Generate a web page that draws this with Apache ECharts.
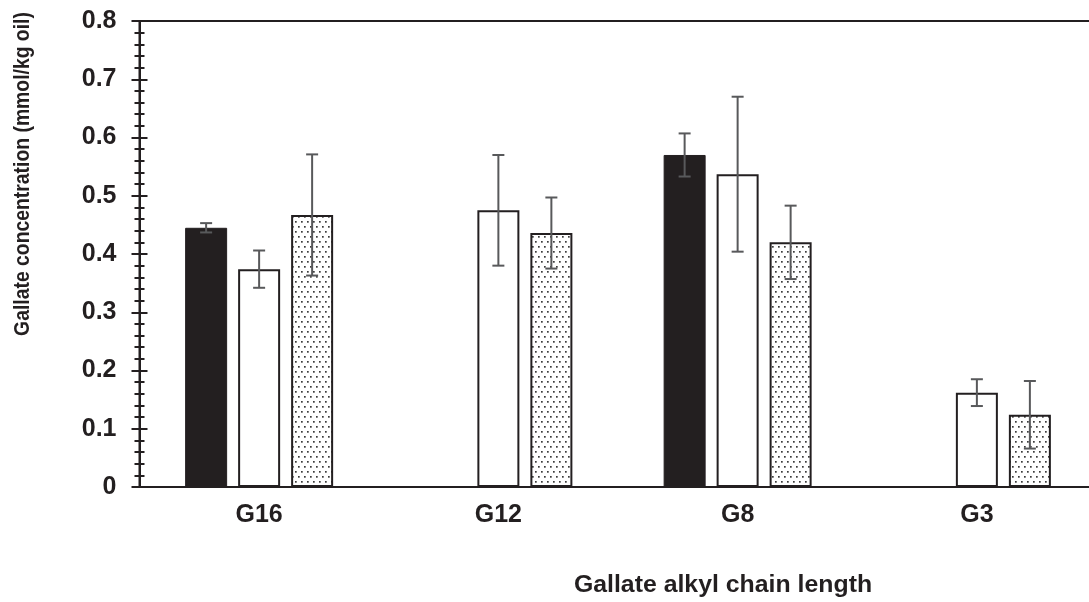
<!DOCTYPE html>
<html>
<head>
<meta charset="utf-8">
<script src="https://cdn.jsdelivr.net/npm/echarts@6/dist/echarts.min.js"></script>
<style>html,body{margin:0;padding:0;background:#fff}#c{width:1089px;height:602px}</style>
</head>
<body>
<div id="c"></div>
<script>
// ---- data ----
var categories = ['G16', 'G12', 'G8', 'G3'];
var blackValues = [0.445, '-', 0.570, '-'];
var blackErrors = [0.008, '-', 0.037, '-'];
var whiteValues = [0.374, 0.475, 0.537, 0.162];
var whiteErrors = [0.032, 0.095, 0.133, 0.023];
var dottedValues = [0.467, 0.436, 0.420, 0.124];
var dottedErrors = [0.104, 0.061, 0.063, 0.058];
var yTicks = [0, 0.1, 0.2, 0.3, 0.4, 0.5, 0.6, 0.7, 0.8];
var yTitle = 'Gallate concentration (mmol/kg oil)';
var xTitle = 'Gallate alkyl chain length';

// ---- styles ----
var INK = '#231f20';
var ERR = '#58595b';
var FONT = '"Liberation Sans", Arial, sans-serif';
var BAR_W = 42, BAR_GAP = 11;

function makeDotPattern() {
  var c = document.createElement('canvas');
  c.width = 6; c.height = 10;
  var g = c.getContext('2d');
  g.fillStyle = '#ffffff';
  g.fillRect(0, 0, 6, 10);
  g.fillStyle = '#3c3c3c';
  g.fillRect(1, 1, 1.7, 1.7);
  g.fillRect(4, 6, 1.7, 1.7);
  return c;
}
var dotPattern = { image: makeDotPattern(), repeat: 'repeat' };

function errData(vals, errs) {
  return vals.map(function (v, i) {
    return v === '-' ? [i, '-', '-'] : [i, v, errs[i]];
  });
}

function errSeries(vals, errs, slot) {
  return {
    type: 'custom',
    xAxisIndex: 0, yAxisIndex: 0,
    z: 10,
    encode: { x: 0, y: 1 },
    data: errData(vals, errs),
    renderItem: function (params, api) {
      var v = api.value(1), e = api.value(2);
      if (isNaN(v) || isNaN(e)) return null;
      var ci = api.value(0);
      var top = api.coord([ci, v + e]);
      var bot = api.coord([ci, v - e]);
      var x = top[0] + slot * (BAR_W + BAR_GAP);
      var hw = 6;
      var st = { stroke: ERR, lineWidth: 2, fill: null };
      return {
        type: 'group',
        children: [
          { type: 'line', shape: { x1: x, y1: top[1], x2: x, y2: bot[1] }, style: st },
          { type: 'line', shape: { x1: x - hw, y1: top[1], x2: x + hw, y2: top[1] }, style: st },
          { type: 'line', shape: { x1: x - hw, y1: bot[1], x2: x + hw, y2: bot[1] }, style: st }
        ]
      };
    }
  };
}

var yLabelStyle = { fontFamily: FONT, fontSize: 25, fontWeight: 'bold', color: INK };
var yMin = yTicks[0], yMax = yTicks[yTicks.length - 1], yStep = yTicks[1] - yTicks[0];

var chart = echarts.init(document.getElementById('c'), null, { renderer: 'canvas' });
chart.setOption({
  animation: false,
  backgroundColor: '#ffffff',
  grid: { left: 139.5, top: 21, width: 957, bottom: 115, outerBoundsMode: 'none', containLabel: false,
          show: true, borderColor: INK, borderWidth: 2, backgroundColor: 'transparent' },
  xAxis: [{
    type: 'category',
    data: categories,
    axisLine: { lineStyle: { color: INK, width: 2 } },
    axisTick: { show: false },
    axisLabel: { margin: 16, fontFamily: FONT, fontSize: 25, fontWeight: 'bold', color: INK },
    splitLine: { show: false }
  }],
  yAxis: [{
    type: 'value', min: yMin, max: yMax, interval: yStep,
    position: 'left',
    axisLine: { show: true, lineStyle: { color: INK, width: 2 } },
    axisTick: { show: true, inside: false, length: 8, lineStyle: { color: INK, width: 2 } },
    minorTick: { show: true, splitNumber: 5, length: 5, lineStyle: { color: INK, width: 2 } },
    axisLabel: Object.assign({ margin: 23 }, yLabelStyle),
    splitLine: { show: false }
  }, {
    type: 'value', min: yMin, max: yMax, interval: yStep,
    position: 'left', offset: 0,
    axisLine: { show: true, lineStyle: { color: INK, width: 2 } },
    axisTick: { show: true, inside: true, length: 8, lineStyle: { color: INK, width: 2 } },
    minorTick: { show: true, splitNumber: 5, length: 5, lineStyle: { color: INK, width: 2 } },
    axisLabel: { show: false },
    splitLine: { show: false }
  }],
  graphic: [{
    type: 'text',
    x: 23, y: 174,
    rotation: Math.PI / 2,
    scaleX: 0.88,
    style: { text: yTitle, font: 'bold 22px ' + FONT, fill: INK, textAlign: 'center', textVerticalAlign: 'middle' }
  }, {
    type: 'text',
    x: 723, y: 586,
    scaleX: 1.08,
    style: { text: xTitle, font: 'bold 23px ' + FONT, fill: INK, textAlign: 'center', textVerticalAlign: 'middle' }
  }],
  series: [{
    type: 'bar', name: 'black', data: blackValues,
    barWidth: BAR_W, barGap: (BAR_GAP / BAR_W * 100) + '%',
    itemStyle: { color: INK, borderColor: INK, borderWidth: 1 }
  }, {
    type: 'bar', name: 'white', data: whiteValues,
    barWidth: BAR_W,
    itemStyle: { color: '#ffffff', borderColor: INK, borderWidth: 2 }
  }, {
    type: 'bar', name: 'dotted', data: dottedValues,
    barWidth: BAR_W,
    itemStyle: { color: dotPattern, borderColor: INK, borderWidth: 2 }
  },
  errSeries(blackValues, blackErrors, -1),
  errSeries(whiteValues, whiteErrors, 0),
  errSeries(dottedValues, dottedErrors, 1)
  ]
});
</script>
</body>
</html>
